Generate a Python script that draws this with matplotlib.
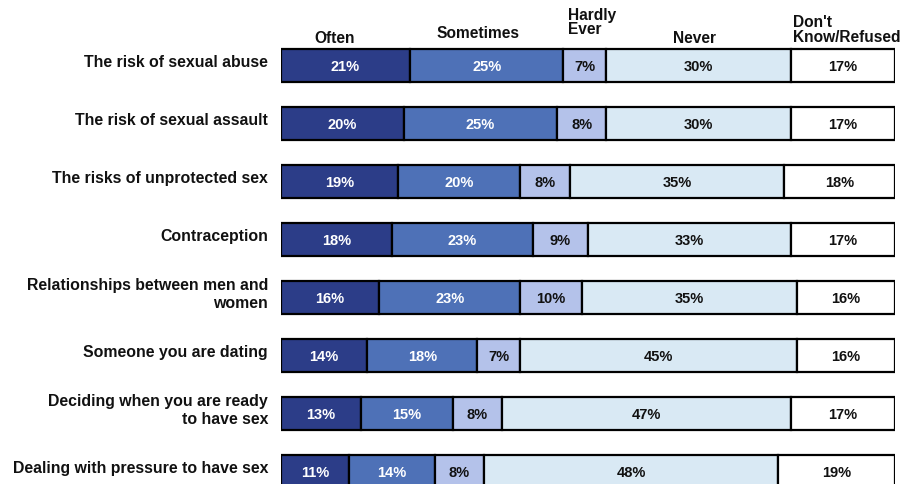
import matplotlib
matplotlib.use("Agg")
import matplotlib.pyplot as plt
import numpy as np

plt.rcParams['font.family'] = ['Liberation Sans', 'DejaVu Sans']
plt.rcParams['font.weight'] = 'bold'

categories = [
    "The risk of sexual abuse",
    "The risk of sexual assault",
    "The risks of unprotected sex",
    "Contraception",
    "Relationships between men and\nwomen",
    "Someone you are dating",
    "Deciding when you are ready\nto have sex",
    "Dealing with pressure to have sex",
]
series_names = ["Often", "Sometimes", "Hardly\nEver", "Never", "Don't\nKnow/Refused"]
often     = [21, 20, 19, 18, 16, 14, 13, 11]
sometimes = [25, 25, 20, 23, 23, 18, 15, 14]
hardly    = [7, 8, 8, 9, 10, 7, 8, 8]
never     = [30, 30, 35, 33, 35, 45, 47, 48]
dontknow  = [17, 17, 18, 17, 16, 16, 17, 19]

series = [often, sometimes, hardly, never, dontknow]
colors = ["#2C3D88", "#4E71B7", "#B4C2EA", "#D9E9F4", "#FFFFFF"]
text_colors = ["white", "white", "#111111", "#111111", "#111111"]

fig = plt.figure(figsize=(9.07, 4.85), dpi=100)
ax = fig.add_axes([281/907, 0, 614/907, 1])

y = np.arange(len(categories))
left = np.zeros(len(categories))
for vals, col, tc in zip(series, colors, text_colors):
    vals = np.array(vals, dtype=float)
    ax.barh(y, vals, left=left, height=0.57, color=col, edgecolor="black", linewidth=1.6)
    for yi, l, v in zip(y, left, vals):
        ax.text(l + v / 2, yi, f"{int(v)}%", ha="center", va="center",
                fontsize=10.5, fontweight="bold", color=tc)
    left += vals

ax.set_xlim(0, 100)
ax.set_ylim(7.212, -1.15)
ax.axis("off")

for yi, cat in zip(y, categories):
    ax.text(-2.1, yi - 0.07, cat, ha="right", va="center", fontsize=11.4,
            fontweight="bold", color="#111111", multialignment="right",
            linespacing=1.25)

# column headers
hdr_pos = [(8.8, -0.36, "center"), (32.1, -0.445, "center"), (46.7, -0.515, "left"),
           (67.4, -0.36, "center"), (83.4, -0.37, "left")]
hdr_ls = [1.0, 1.0, 0.9, 1.0, 1.05]
for name, (hx, hy, ha), ls in zip(series_names, hdr_pos, hdr_ls):
    ax.text(hx, hy, name, ha=ha, va="bottom", fontsize=11.2, fontweight="bold",
            color="#111111", multialignment="left", linespacing=ls, clip_on=False)

fig.savefig("out.png", dpi=100)
